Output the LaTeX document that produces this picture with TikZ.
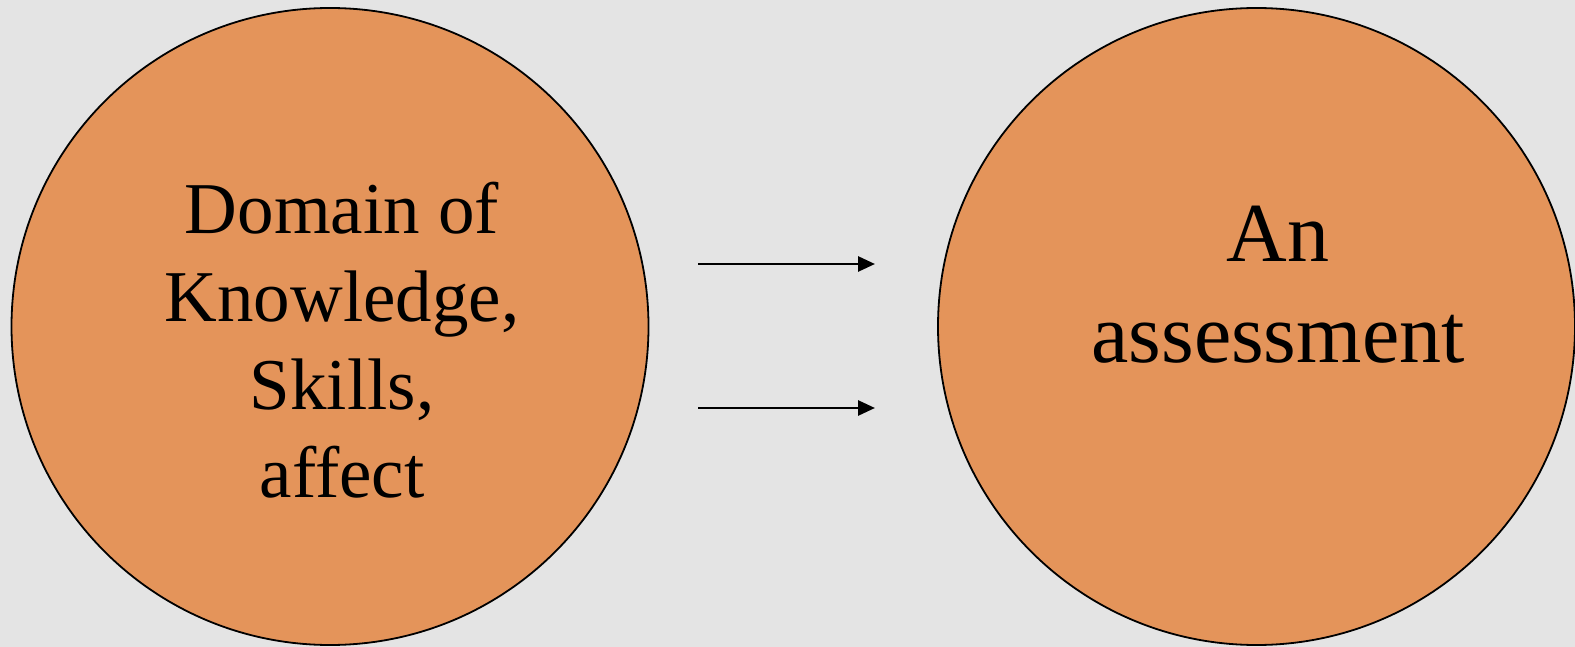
\documentclass[tikz,border=0pt]{standalone}
\usepackage{fontspec}
\setmainfont{Liberation Serif}
\usetikzlibrary{arrows.meta}
\definecolor{bggray}{RGB}{228,228,228}
\definecolor{bubbleorange}{RGB}{228,148,90}

\begin{document}
\begin{tikzpicture}[x=1pt,y=-1pt,
    bubble/.style={circle,draw,line width=1.8pt,fill=bubbleorange,minimum size=637pt,inner sep=0pt},
    flow/.style={line width=2.8pt,-{Triangle[length=17pt,width=15pt]}}]
    \useasboundingbox[fill=bggray] (0,0) rectangle (1575,647);
    % the two circles
    \node[bubble] (domain) at (330,326.5) {};
    \node[bubble] (assess) at (1256.5,326.5) {};
    \node[align=center,font=\fontsize{73}{88}\selectfont] (domaintext) at (342,340) {Domain of\\Knowledge,\\Skills,\\affect};
    \node[align=center,font=\fontsize{84}{101}\selectfont] (assesstext) at (1278,284.5) {An\\assessment};
    % arrows in between
    \coordinate (upfrom) at (698,264);
    \coordinate (upto) at (875,264);
    \coordinate (lowfrom) at (698,408);
    \coordinate (lowto) at (875,408);
    \draw[flow] (upfrom) -- (upto);
    \draw[flow] (lowfrom) -- (lowto);
\end{tikzpicture}
\end{document}
